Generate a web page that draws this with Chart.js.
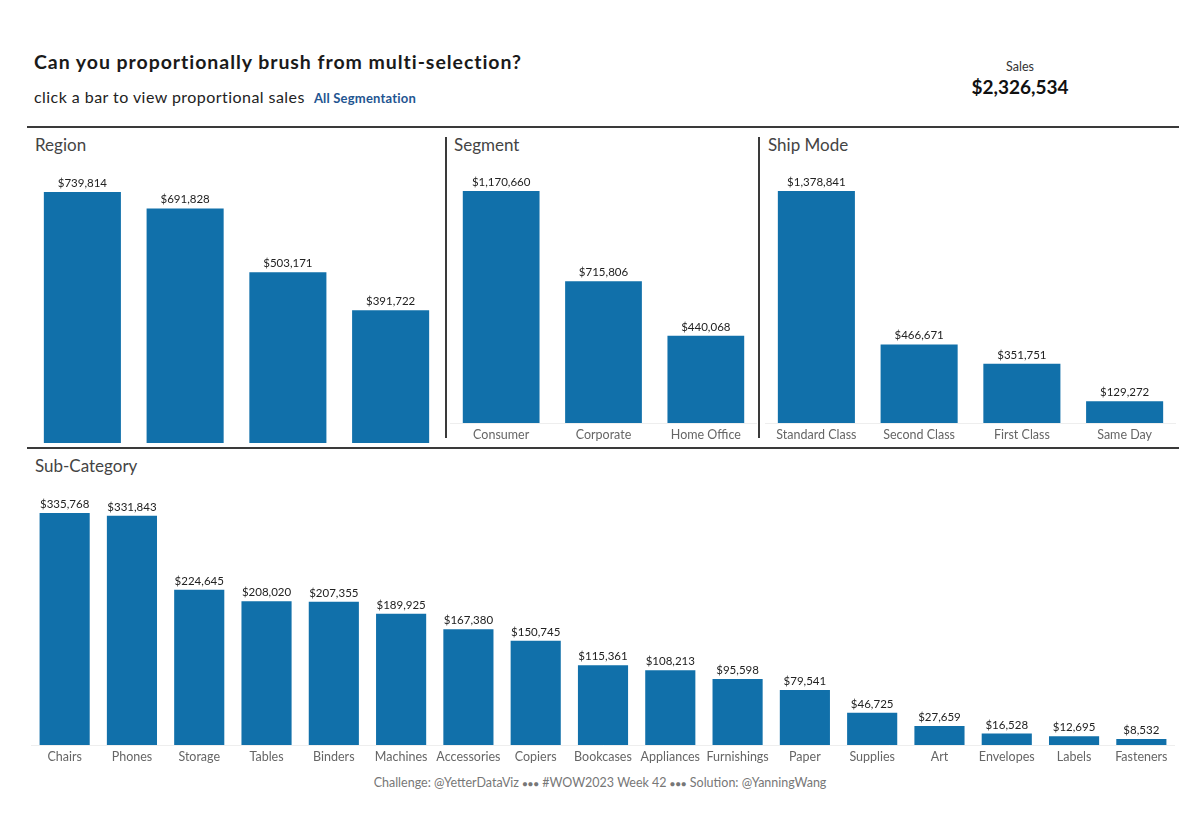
<!DOCTYPE html>
<html>
<head>
<meta charset="utf-8">
<script src="https://cdn.jsdelivr.net/npm/chart.js@4/dist/chart.umd.min.js"></script>
<style>
  html,body{margin:0;padding:0;background:#fff;}
  body{width:1200px;height:816px;position:relative;overflow:hidden;font-family:"Lato","Open Sans",sans-serif;color:#222;}
  .abs{position:absolute;}
  .title{left:34px;top:50px;font-size:19.5px;font-weight:700;color:#1a1a1a;white-space:nowrap;letter-spacing:0.95px;}
  .sub{left:34px;top:87px;font-size:16px;color:#222;white-space:nowrap;letter-spacing:0.45px;}
  .sub b{font-size:13px;color:#1f5591;margin-left:9px;font-weight:700;letter-spacing:0.2px;}
  .kpiL{left:920px;width:200px;text-align:center;top:59px;font-size:12.5px;color:#333;}
  .kpiV{left:920px;width:200px;text-align:center;top:75px;font-size:19px;font-weight:700;color:#111;}
  .hline{height:2px;background:#3a3a3a;}
  .vline{width:2px;background:#3a3a3a;}
  .ptitle{font-size:17px;color:#444;white-space:nowrap;}
  .foot{left:0;width:1200px;text-align:center;top:775px;font-size:12.5px;color:#777;}
  .cw{position:absolute;}
</style>
</head>
<body>
<div class="abs title">Can you proportionally brush from multi-selection?</div>
<div class="abs sub">click a bar to view proportional sales<b>All Segmentation</b></div>
<div class="abs kpiL">Sales</div>
<div class="abs kpiV" id="kpi"></div>

<div class="abs hline" style="left:27px;top:126px;width:1152px;"></div>
<div class="abs hline" style="left:27px;top:447px;width:1152px;"></div>
<div class="abs vline" style="left:445px;top:137px;height:301px;"></div>
<div class="abs vline" style="left:758px;top:137px;height:301px;"></div>

<div class="abs ptitle" style="left:35px;top:134px;">Region</div>
<div class="abs ptitle" style="left:454px;top:134px;">Segment</div>
<div class="abs ptitle" style="left:768px;top:134px;">Ship Mode</div>
<div class="abs ptitle" style="left:35px;top:455px;">Sub-Category</div>

<div class="cw" style="left:31px;top:170px;width:411px;height:273px;"><canvas id="cRegion"></canvas></div>
<div class="cw" style="left:450px;top:170px;width:307px;height:275px;"><canvas id="cSegment"></canvas></div>
<div class="cw" style="left:765px;top:170px;width:411px;height:275px;"><canvas id="cShip"></canvas></div>
<div class="cw" style="left:31px;top:490px;width:1144px;height:277px;"><canvas id="cSub"></canvas></div>

<div class="abs foot">Challenge: @YetterDataViz <span style="font-size:8.5px;letter-spacing:0.5px;">●●●</span> #WOW2023 Week 42 <span style="font-size:8.5px;letter-spacing:0.5px;">●●●</span> Solution: @YanningWang</div>

<script>
const totalSales = 2326534;

const regionLabels = ["West", "East", "Central", "South"];
const regionValues = [739814, 691828, 503171, 391722];

const segmentLabels = ["Consumer", "Corporate", "Home Office"];
const segmentValues = [1170660, 715806, 440068];

const shipLabels = ["Standard Class", "Second Class", "First Class", "Same Day"];
const shipValues = [1378841, 466671, 351751, 129272];

const subLabels = ["Chairs", "Phones", "Storage", "Tables", "Binders", "Machines", "Accessories", "Copiers", "Bookcases", "Appliances", "Furnishings", "Paper", "Supplies", "Art", "Envelopes", "Labels", "Fasteners"];
const subValues = [335768, 331843, 224645, 208020, 207355, 189925, 167380, 150745, 115361, 108213, 95598, 79541, 46725, 27659, 16528, 12695, 8532];

const BLUE = "#1170aa";
const FONT = "Lato, 'Open Sans', sans-serif";
const fmt = v => "$" + v.toLocaleString("en-US");

document.getElementById("kpi").textContent = fmt(totalSales);

const valueLabels = {
  id: "valueLabels",
  afterDatasetsDraw(chart) {
    const ctx = chart.ctx;
    const meta = chart.getDatasetMeta(0);
    const data = chart.data.datasets[0].data;
    ctx.save();
    ctx.font = "11.5px " + FONT;
    ctx.fillStyle = "#222";
    ctx.textAlign = "center";
    ctx.textBaseline = "bottom";
    meta.data.forEach((bar, i) => {
      ctx.fillText(fmt(data[i]), bar.x, bar.y - 3);
    });
    ctx.restore();
  }
};

function makeChart(id, labels, values, maxV, barPct, showX) {
  return new Chart(document.getElementById(id), {
    type: "bar",
    data: { labels: labels, datasets: [{ data: values, backgroundColor: BLUE, borderWidth: 0, barPercentage: barPct, categoryPercentage: 1 }] },
    options: {
      responsive: true,
      maintainAspectRatio: false,
      animation: false,
      layout: { padding: 0 },
      plugins: { legend: { display: false }, tooltip: { enabled: false } },
      scales: {
        x: {
          display: showX,
          grid: { display: false, drawTicks: false },
          border: { display: true, color: "#eeeeee", width: 1 },
          ticks: { autoSkip: false, maxRotation: 0, minRotation: 0, padding: 4, color: "#666", font: { family: FONT, size: 12.5 } },
          afterFit(scale) { scale.height = showX ? 22 : 0; }
        },
        y: { display: false, min: 0, max: maxV }
      }
    },
    plugins: [valueLabels]
  });
}

makeChart("cRegion", regionLabels, regionValues, 805000, 0.75, false);
makeChart("cSegment", segmentLabels, segmentValues, 1276600, 0.75, true);
makeChart("cShip", shipLabels, shipValues, 1503700, 0.75, true);
makeChart("cSub", subLabels, subValues, 369000, 0.745, true);
</script>
</body>
</html>
